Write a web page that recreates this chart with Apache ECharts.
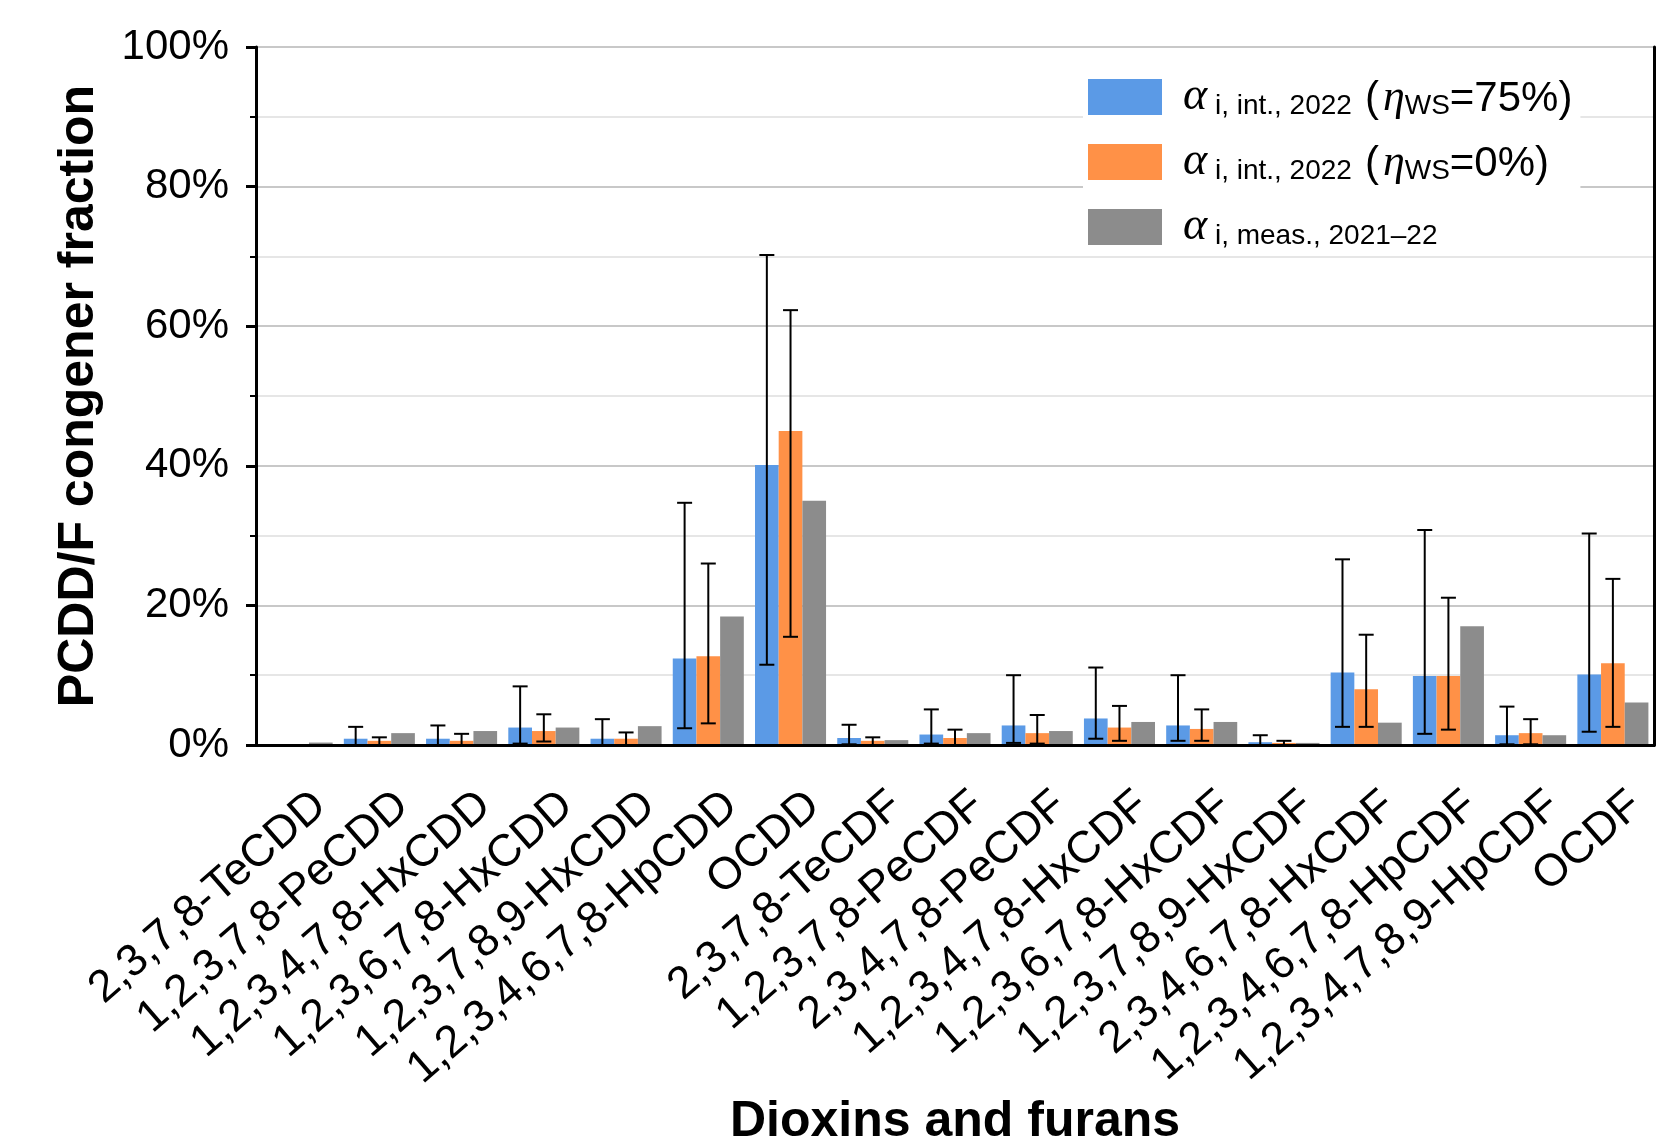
<!DOCTYPE html>
<html>
<head>
<meta charset="utf-8">
<script src="https://cdn.jsdelivr.net/npm/echarts@6/dist/echarts.min.js"></script>
<style>
html,body{margin:0;padding:0;background:#fff;}
#chart{width:1666px;height:1139px;}
</style>
</head>
<body>
<div id="chart"></div>
<script>
// ---- data (percent) ----
const categories = ['2,3,7,8-TeCDD','1,2,3,7,8-PeCDD','1,2,3,4,7,8-HxCDD','1,2,3,6,7,8-HxCDD','1,2,3,7,8,9-HxCDD','1,2,3,4,6,7,8-HpCDD','OCDD','2,3,7,8-TeCDF','1,2,3,7,8-PeCDF','2,3,4,7,8-PeCDF','1,2,3,4,7,8-HxCDF','1,2,3,6,7,8-HxCDF','1,2,3,7,8,9-HxCDF','2,3,4,6,7,8-HxCDF','1,2,3,4,6,7,8-HpCDF','1,2,3,4,7,8,9-HpCDF','OCDF'];

const intWS75 = [0.05, 0.9, 0.9, 2.5, 0.9, 12.4, 40.1, 1.0, 1.5, 2.8, 3.8, 2.8, 0.4, 10.4, 9.9, 1.4, 10.1];
const intWS75Low = [null, 0, 0, 0.2, 0, 2.4, 11.5, 0.1, 0.2, 0.3, 0.9, 0.6, 0, 2.6, 1.6, 0.1, 1.9];
const intWS75High = [null, 2.6, 2.8, 8.4, 3.7, 34.7, 70.2, 2.9, 5.1, 10.0, 11.1, 10.0, 1.4, 26.6, 30.8, 5.5, 30.3];

const intWS0 = [0.05, 0.6, 0.6, 2.0, 0.9, 12.7, 45.0, 0.6, 1.0, 1.7, 2.5, 2.3, 0.3, 8.0, 9.9, 1.7, 11.7];
const intWS0Low = [null, 0, 0, 0.5, 0, 3.1, 15.5, 0, 0, 0.2, 0.6, 0.6, 0, 2.6, 2.2, 0.1, 2.6];
const intWS0High = [null, 1.1, 1.6, 4.4, 1.8, 26.0, 62.3, 1.1, 2.2, 4.3, 5.6, 5.1, 0.6, 15.8, 21.1, 3.7, 23.8];

const meas = [0.35, 1.7, 2.0, 2.5, 2.7, 18.4, 35.0, 0.7, 1.7, 2.0, 3.3, 3.3, 0.3, 3.2, 17.0, 1.4, 6.1];

const yTicks = [0, 20, 40, 60, 80, 100];

// ---- styles ----
const C_BLUE = '#5B9AE6', C_ORANGE = '#FF9147', C_GRAY = '#8C8C8C';
const CAT_GAP = 0.136;
const SANS = 'Liberation Sans, Arial, sans-serif';
const SERIF = 'Liberation Serif, Times New Roman, serif';

function errData(low, high) {
  const out = [];
  for (let i = 0; i < categories.length; i++) {
    if (low[i] !== null && high[i] !== null) out.push([i, low[i], high[i]]);
  }
  return out;
}

function makeErr(offsetBars) {
  return function (params, api) {
    const i = api.value(0);
    const pLo = api.coord([i, api.value(1)]);
    const pHi = api.coord([i, api.value(2)]);
    const band = api.size([1, 0])[0];
    const barW = band * (1 - CAT_GAP) / 3;
    const x = pLo[0] + offsetBars * barW;
    const cap = 7.5;
    const st = { stroke: '#000', lineWidth: 2 };
    return {
      type: 'group',
      children: [
        { type: 'line', shape: { x1: x, y1: pLo[1], x2: x, y2: pHi[1] }, style: st },
        { type: 'line', shape: { x1: x - cap, y1: pHi[1], x2: x + cap, y2: pHi[1] }, style: st },
        { type: 'line', shape: { x1: x - cap, y1: pLo[1], x2: x + cap, y2: pLo[1] }, style: st }
      ]
    };
  };
}

const legendLabels = {
  'ws75': '{a|α}{s| i, int., 2022}{p|(}{e|η}{s|WS}{m|=75%)}',
  'ws0': '{a|α}{s| i, int., 2022}{p|(}{e|η}{s|WS}{m|=0%)}',
  'meas': '{a|α}{s| i, meas., 2021–22}'
};

const chart = echarts.init(document.getElementById('chart'), null, { renderer: 'canvas' });
chart.setOption({
  animation: false,
  backgroundColor: '#fff',
  title: {
    text: 'Dioxins and furans',
    left: 955,
    textAlign: 'center',
    top: 1097,
    padding: 0,
    textStyle: { fontFamily: SANS, fontWeight: 'bold', fontSize: 50, color: '#000' }
  },
  grid: { left: 256, right: 12, top: 47, bottom: 394, show: false, containLabel: false, outerBoundsMode: 'none' },
  legend: {
    data: ['ws75', 'ws0', 'meas'],
    orient: 'vertical',
    left: 1083,
    top: 69,
    padding: [5, 8, 4, 5],
    backgroundColor: '#fff',
    itemWidth: 74,
    itemHeight: 36,
    itemGap: 19,
    icon: 'rect',
    formatter: function (n) { return legendLabels[n]; },
    textStyle: {
      color: '#000',
      rich: {
        a: { fontFamily: SERIF, fontStyle: 'italic', fontSize: 46, verticalAlign: 'bottom', lineHeight: 46, padding: [0, 0, 0, 16], color: '#000' },
        s: { fontFamily: SANS, fontSize: 28, verticalAlign: 'bottom', lineHeight: 18, color: '#000' },
        m: { fontFamily: SANS, fontSize: 42, verticalAlign: 'bottom', lineHeight: 46, color: '#000' },
        p: { fontFamily: SANS, fontSize: 42, verticalAlign: 'bottom', lineHeight: 46, padding: [0, 4, 0, 13], color: '#000' },
        e: { fontFamily: SERIF, fontStyle: 'italic', fontSize: 44, verticalAlign: 'bottom', lineHeight: 46, color: '#000' }
      }
    }
  },
  xAxis: [{
    type: 'category',
    data: categories,
    axisLine: { lineStyle: { color: '#000', width: 3 } },
    axisTick: { alignWithLabel: true, length: 12, lineStyle: { color: '#000', width: 3 } },
    axisLabel: { rotate: 41, interval: 0, margin: 28, verticalAlign: 'top', padding: [13, 0, 0, 0], fontFamily: SANS, fontSize: 45, color: '#000' },
    splitLine: { show: false },
    z: 10
  }, {
    type: 'category',
    data: categories,
    position: 'top',
    axisLine: { show: true, lineStyle: { color: '#000', width: 3 } },
    axisTick: { show: false },
    axisLabel: { show: false },
    splitLine: { show: false },
    z: 10
  }],
  yAxis: [{
    type: 'value',
    min: 0, max: 100, interval: 20,
    name: 'PCDD/F congener fraction',
    nameLocation: 'middle',
    nameGap: 152,
    nameTextStyle: { fontFamily: SANS, fontWeight: 'bold', fontSize: 50, color: '#000' },
    axisLine: { show: true, lineStyle: { color: '#000', width: 3 } },
    axisTick: { show: true, length: 10, lineStyle: { color: '#000', width: 3 } },
    minorTick: { show: true, splitNumber: 2, length: 6, lineStyle: { color: '#000', width: 2 } },
    axisLabel: { margin: 27, fontFamily: SANS, fontSize: 42, color: '#000',
      formatter: function (v) { return yTicks.indexOf(v) >= 0 ? v + '%' : ''; } },
    splitLine: { show: true, lineStyle: { color: '#c8c8c8', width: 2 } },
    minorSplitLine: { show: true, lineStyle: { color: '#e6e6e6', width: 2 } },
    z: 1
  }, {
    type: 'value',
    min: 0, max: 100, interval: 20,
    position: 'right',
    axisLine: { show: true, lineStyle: { color: '#000', width: 3 } },
    axisTick: { show: false },
    axisLabel: { show: false },
    splitLine: { show: false },
    z: 10
  }],
  series: [
    { name: 'ws75', type: 'bar', data: intWS75, itemStyle: { color: C_BLUE }, barGap: '0%', barCategoryGap: (CAT_GAP * 100) + '%' },
    { name: 'ws0', type: 'bar', data: intWS0, itemStyle: { color: C_ORANGE }, barGap: '0%', barCategoryGap: (CAT_GAP * 100) + '%' },
    { name: 'meas', type: 'bar', data: meas, itemStyle: { color: C_GRAY }, barGap: '0%', barCategoryGap: (CAT_GAP * 100) + '%' },
    { name: 'errWS75', type: 'custom', renderItem: makeErr(-1), data: errData(intWS75Low, intWS75High), encode: { x: 0, y: [1, 2] }, z: 5, silent: true },
    { name: 'errWS0', type: 'custom', renderItem: makeErr(0), data: errData(intWS0Low, intWS0High), encode: { x: 0, y: [1, 2] }, z: 5, silent: true }
  ]
});
</script>
</body>
</html>
